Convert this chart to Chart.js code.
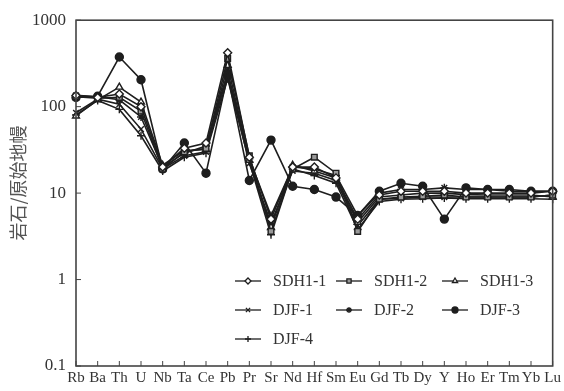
<!DOCTYPE html>
<html>
<head>
<meta charset="utf-8">
<script src="https://cdn.jsdelivr.net/npm/chart.js@4/dist/chart.umd.min.js"></script>
<style>
  html, body { margin: 0; padding: 0; background: #fff; }
  #wrap { width: 564px; height: 391px; }
</style>
</head>
<body>
<div id="wrap"><canvas id="cv" width="564" height="391"></canvas></div>
<script>
// ── Data ───────────────────────────────────────────
const elements = ['Rb','Ba','Th','U','Nb','Ta','Ce','Pb','Pr','Sr','Nd','Hf','Sm','Eu','Gd','Tb','Dy','Y','Ho','Er','Tm','Yb','Lu'];
const yTicks = [0.1, 1, 10, 100, 1000];

const sdh1_1 = [135, 128, 140, 100, 20, 33, 38, 420, 26, 5.0, 20, 20, 15, 5.0, 9.5, 10.5, 10.5, 10.5, 10, 10, 10, 10, 10.5];
const sdh1_2 = [130, 125, 128, 89, 19, 30, 33, 360, 27, 3.6, 19, 26, 17, 3.6, 8.5, 9, 9.2, 9.5, 9, 9, 9, 9, 9.5];
const sdh1_3 = [78, 120, 168, 113, 21, 31, 32, 300, 24, 4.0, 21, 18, 15, 4.6, 9, 9.5, 10, 10, 9.6, 9.5, 9.5, 9.5, 9];
const djf_1  = [85, 122, 107, 55, 19, 27, 30, 240, 22, 4.5, 18, 17, 14, 4.2, 8.5, 8.7, 9, 9, 9, 9, 9, 9, 9.5];
const djf_2  = [135, 130, 120, 76, 20, 29, 35, 250, 25, 5.5, 20, 19, 16, 5.5, 10, 11, 11, 11.5, 11, 11, 10.5, 10.5, 10.5];
const djf_3  = [128, 132, 375, 205, 19, 38, 17, 230, 14, 41, 12, 11, 9, 5.5, 10.5, 13, 12, 5, 11.5, 11, 11, 10.5, 10.5];
const djf_4  = [80, 118, 93, 46, 18, 26, 29, 210, 23, 3.3, 19, 16, 13, 3.8, 8, 8.5, 8.6, 8.8, 8.6, 8.6, 8.6, 8.6, 8.5];

const INK = '#1e1e1e';
const SERIF = '"Liberation Serif", "DejaVu Serif", serif';

function series(label, data, style, fill) {
  return {
    label, data,
    borderColor: INK, borderWidth: 1.6,
    pointStyle: style, pointRadius: 4, pointBorderWidth: 1.4,
    pointBorderColor: INK, pointBackgroundColor: fill,
    tension: 0,
  };
}

const datasets = [
  series('SDH1-1', sdh1_1, 'rectRot', '#fff'),
  series('SDH1-2', sdh1_2, 'rect', '#999'),
  series('SDH1-3', sdh1_3, 'triangle', '#fff'),
  series('DJF-1', djf_1, 'crossRot', INK),
  series('DJF-2', djf_2, 'star', INK),
  series('DJF-3', djf_3, 'circle', INK),
  series('DJF-4', djf_4, 'cross', INK),
];

// ── Frame, inward ticks, legend and y title ─────────
const decor = {
  id: 'decor',
  afterDraw(chart) {
    const { ctx, chartArea: a, scales: { x, y } } = chart;
    ctx.save();
    ctx.strokeStyle = '#444';
    ctx.lineWidth = 1.6;
    ctx.strokeRect(a.left, a.top, a.right - a.left, a.bottom - a.top);

    ctx.lineWidth = 1;
    x.ticks.forEach((t, i) => {
      const px = x.getPixelForTick(i);
      ctx.beginPath(); ctx.moveTo(px, a.bottom); ctx.lineTo(px, a.bottom - 5); ctx.stroke();
    });
    y.ticks.forEach((t, i) => {
      const py = y.getPixelForTick(i);
      ctx.beginPath(); ctx.moveTo(a.left, py); ctx.lineTo(a.left + 5, py); ctx.stroke();
    });

    // legend, 3 columns inside the plot
    const cols = [235, 336, 442], rows = [281, 310, 339];
    ctx.font = '16px ' + SERIF;
    ctx.textBaseline = 'middle';
    ctx.textAlign = 'left';
    datasets.forEach((ds, i) => {
      const lx = cols[i % 3], ly = rows[Math.floor(i / 3)];
      ctx.strokeStyle = INK; ctx.lineWidth = 1.3;
      ctx.beginPath(); ctx.moveTo(lx, ly); ctx.lineTo(lx + 26, ly); ctx.stroke();
      ctx.fillStyle = ds.pointBackgroundColor;
      Chart.helpers.drawPoint(ctx, { pointStyle: ds.pointStyle, radius: 3, rotation: 0, borderWidth: 1.2 }, lx + 13, ly);
      ctx.fillStyle = '#333';
      ctx.fillText(ds.label, lx + 38, ly + 1);
    });

    // y axis title
    ctx.translate(18, 183);
    ctx.rotate(-Math.PI / 2);
    ctx.textAlign = 'center';
    ctx.fillStyle = '#555';
    ctx.font = '18px "Noto Sans CJK SC", sans-serif';
    ctx.fillText('岩石/原始地幔', 0, 0);
    ctx.restore();
  },
};

new Chart(document.getElementById('cv'), {
  type: 'line',
  data: { labels: elements, datasets },
  options: {
    responsive: false, animation: false,
    layout: { padding: { top: 15, right: 11, left: 0, bottom: 0 } },
    plugins: { legend: { display: false }, tooltip: { enabled: false } },
    scales: {
      x: {
        offset: false,
        grid: { display: false, drawTicks: false },
        border: { display: false },
        ticks: { color: '#333', font: { family: SERIF, size: 15 }, padding: 3, maxRotation: 0, autoSkip: false },
        afterFit: s => { s.height = 25; },
      },
      y: {
        type: 'logarithmic', min: 0.1, max: 1000,
        grid: { display: false, drawTicks: false },
        border: { display: false },
        afterBuildTicks: s => { s.ticks = yTicks.map(v => ({ value: v })); },
        ticks: { color: '#333', font: { family: SERIF, size: 17 }, padding: 10, callback: v => String(v) },
        afterFit: s => { s.width = 76; },
      },
    },
  },
  plugins: [decor],
});
</script>
</body>
</html>
